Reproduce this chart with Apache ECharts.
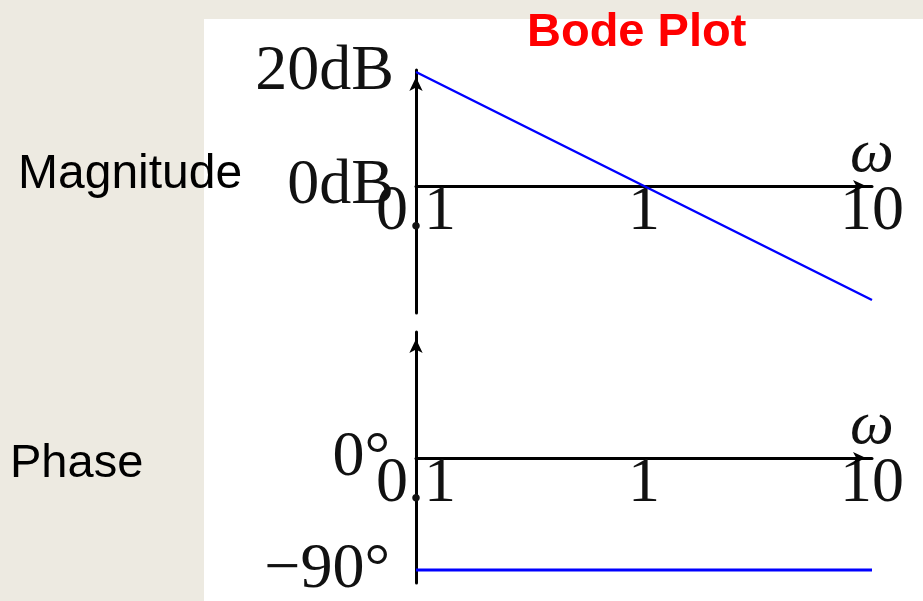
<!DOCTYPE html>
<html lang="en">
<head>
    <meta charset="utf-8">
    <title>Bode Plot</title>
    <script src="https://cdn.jsdelivr.net/npm/echarts@6/dist/echarts.min.js"></script>
    <style>
        html, body { margin: 0; padding: 0; background: #EDEAE1; }
        #panel { position: absolute; left: 204px; top: 19px; width: 719px; height: 582px; background: #fff; }
        #main { position: absolute; left: 0; top: 0; width: 923px; height: 601px; }
    </style>
</head>
<body>
<div id="panel"></div>
<div id="main"></div>
<script>
    // frequency points (rad/s) and asymptotic values
    var freq = [0.1, 1, 10];
    var magnitude = [20, 0, -20];     // dB
    var phaseFreq = [0.1, 10];
    var phase = [-90, -90];           // degrees

    // tick labels
    var xTicks = [0.1, 1, 10];
    var xTickLabels = ['0.1', '1', '10'];
    var magTicks = [20, 0];
    var magTickLabels = ['20dB', '0dB'];
    var phaseTicks = [0, -90];
    var phaseTickLabels = ['0°', '\u221290°'];

    function pairs(xs, ys) {
        var out = [];
        for (var i = 0; i < xs.length; i++) {
            out.push([xs[i], ys[i]]);
        }
        return out;
    }

    function lookup(ticks, labels) {
        return function (v) {
            for (var i = 0; i < ticks.length; i++) {
                if (Math.abs(ticks[i] - v) < 1e-6) return labels[i];
            }
            return '';
        };
    }

    var serif = '"Liberation Serif", "DejaVu Serif", serif';
    var sans = '"Liberation Sans", Arial, sans-serif';

    var axisLineStyle = {color: '#000', width: 3};

    // x axis sits on the zero line, moved up from the grid bottom by offset
    function xAxisFor(gridIndex, offset) {
        return {
            type: 'log',
            logBase: 10,
            gridIndex: gridIndex,
            min: 0.1,
            max: 10,
            position: 'bottom',
            offset: offset,
            name: 'ω',
            nameLocation: 'end',
            nameGap: 0,
            nameMoveOverlap: false,
            nameTextStyle: {
                fontFamily: serif, fontStyle: 'italic', fontSize: 62, color: '#111',
                align: 'center', verticalAlign: 'bottom'
            },
            axisLine: {
                show: true, onZero: false, lineStyle: axisLineStyle,
                symbol: ['none', 'arrow'], symbolSize: [9, 13], symbolOffset: [0, -6]
            },
            axisTick: {show: false},
            splitLine: {show: false},
            minorSplitLine: {show: false},
            axisLabel: {
                customValues: xTicks,
                formatter: lookup(xTicks, xTickLabels),
                fontFamily: serif, fontSize: 64, color: '#111',
                margin: -6
            }
        };
    }

    var myChart = echarts.init(document.getElementById('main'));

    var option = {
        backgroundColor: 'transparent',
        animation: false,
        graphic: [
            {
                type: 'text', left: 527, top: 10,
                style: {text: 'Bode Plot', font: 'bold 47px ' + sans, fill: '#FF0000'}
            },
            {
                type: 'text', left: 18, top: 151,
                style: {text: 'Magnitude', font: '48px ' + sans, fill: '#000'}
            },
            {
                type: 'text', left: 10, top: 441,
                style: {text: 'Phase', font: '47px ' + sans, fill: '#000'}
            }
        ],
        grid: [
            {left: 416, right: 51, top: 70, height: 243, outerBoundsMode: 'none'},
            {left: 416, right: 51, top: 332, height: 251, outerBoundsMode: 'none'}
        ],
        xAxis: [xAxisFor(0, -127), xAxisFor(1, -125)],
        yAxis: [
            {
                type: 'value',
                gridIndex: 0,
                min: -22.28,
                max: 20.35,
                axisLine: {
                    show: true, onZero: false, lineStyle: axisLineStyle,
                    symbol: ['none', 'arrow'], symbolSize: [10, 14], symbolOffset: [0, -7]
                },
                axisTick: {show: false},
                splitLine: {show: false},
                axisLabel: {
                    customValues: magTicks,
                    formatter: lookup(magTicks, magTickLabels),
                    fontFamily: serif, fontSize: 64, color: '#111',
                    margin: 22
                }
            },
            {
                type: 'value',
                gridIndex: 1,
                min: -100.45,
                max: 101.25,
                axisLine: {
                    show: true, onZero: false, lineStyle: axisLineStyle,
                    symbol: ['none', 'arrow'], symbolSize: [10, 14], symbolOffset: [0, -7]
                },
                axisTick: {show: false},
                splitLine: {show: false},
                axisLabel: {
                    customValues: phaseTicks,
                    formatter: lookup(phaseTicks, phaseTickLabels),
                    fontFamily: serif, fontSize: 64, color: '#111',
                    margin: 26,
                    padding: [6, 0, 0, 0]
                }
            }
        ],
        series: [
            {
                name: 'Magnitude',
                type: 'line',
                xAxisIndex: 0,
                yAxisIndex: 0,
                data: pairs(freq, magnitude),
                showSymbol: false,
                clip: false,
                lineStyle: {color: '#0000FF', width: 2.5}
            },
            {
                name: 'Phase',
                type: 'line',
                xAxisIndex: 1,
                yAxisIndex: 1,
                data: pairs(phaseFreq, phase),
                showSymbol: false,
                clip: false,
                lineStyle: {color: '#0000FF', width: 3}
            }
        ]
    };

    myChart.setOption(option);
</script>
</body>
</html>
